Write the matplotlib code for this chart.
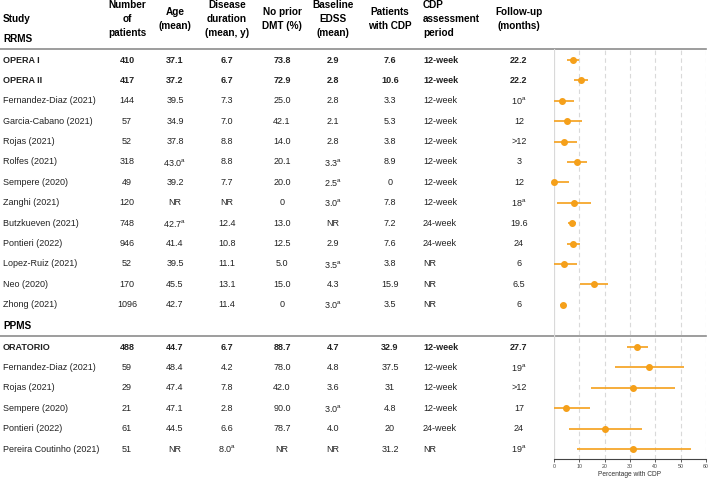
import numpy as np
import matplotlib
matplotlib.use("Agg")
import matplotlib.pyplot as plt

plt.rcParams['font.family'] = ['Liberation Sans', 'DejaVu Sans']

# RRMS studies
studies_rr = ["OPERA I", "OPERA II", "Fernandez-Diaz (2021)", "Garcia-Cabano (2021)", "Rojas (2021)",
              "Rolfes (2021)", "Sempere (2020)", "Zanghi (2021)", "Butzkueven (2021)", "Pontieri (2022)",
              "Lopez-Ruiz (2021)", "Neo (2020)", "Zhong (2021)"]
n_rr = ["410", "417", "144", "57", "52", "318", "49", "120", "748", "946", "52", "170", "1096"]
age_rr = ["37.1", "37.2", "39.5", "34.9", "37.8", "43.0a", "39.2", "NR", "42.7a", "41.4", "39.5", "45.5", "42.7"]
dur_rr = ["6.7", "6.7", "7.3", "7.0", "8.8", "8.8", "7.7", "NR", "12.4", "10.8", "11.1", "13.1", "11.4"]
dmt_rr = ["73.8", "72.9", "25.0", "42.1", "14.0", "20.1", "20.0", "0", "13.0", "12.5", "5.0", "15.0", "0"]
edss_rr = ["2.9", "2.8", "2.8", "2.1", "2.8", "3.3a", "2.5a", "3.0a", "NR", "2.9", "3.5a", "4.3", "3.0a"]
cdp_rr = [7.6, 10.6, 3.3, 5.3, 3.8, 8.9, 0, 7.8, 7.2, 7.6, 3.8, 15.9, 3.5]
period_rr = ["12-week"] * 8 + ["24-week"] * 2 + ["NR"] * 3
fu_rr = ["22.2", "22.2", "10a", "12", ">12", "3", "12", "18a", "19.6", "24", "6", "6.5", "6"]
lo_rr = [5.0, 7.7, 0.0, 0.0, 0.0, 5.0, 0.0, 1.3, 5.4, 5.0, 0.0, 10.4, 2.2]
hi_rr = [9.9, 13.5, 7.9, 11.0, 8.9, 12.9, 5.9, 14.5, 8.8, 10.1, 8.9, 21.3, 4.9]
bold_rr = [True, True] + [False] * 11

# PPMS studies
studies_pp = ["ORATORIO", "Fernandez-Diaz (2021)", "Rojas (2021)", "Sempere (2020)", "Pontieri (2022)",
              "Pereira Coutinho (2021)"]
n_pp = ["488", "59", "29", "21", "61", "51"]
age_pp = ["44.7", "48.4", "47.4", "47.1", "44.5", "NR"]
dur_pp = ["6.7", "4.2", "7.8", "2.8", "6.6", "8.0a"]
dmt_pp = ["88.7", "78.0", "42.0", "90.0", "78.7", "NR"]
edss_pp = ["4.7", "4.8", "3.6", "3.0a", "4.0", "NR"]
cdp_pp = [32.9, 37.5, 31, 4.8, 20, 31.2]
period_pp = ["12-week", "12-week", "12-week", "12-week", "24-week", "NR"]
fu_pp = ["27.7", "19a", ">12", "17", "24", "19a"]
lo_pp = [28.9, 24.1, 14.5, 0.0, 6.1, 9.0]
hi_pp = [37.2, 51.2, 47.8, 14.1, 34.6, 54.0]
bold_pp = [True] + [False] * 5

headers = ["Number\nof\npatients", "Age\n(mean)", "Disease\nduration\n(mean, y)", "No prior\nDMT (%)",
           "Baseline\nEDSS\n(mean)", "Patients\nwith CDP"]

orange = '#f5a01a'
txt = '#222222'


def fmt(s):
    if s.endswith("a"):
        return s[:-1] + r"$^{\mathregular{a}}$"
    return s


W, H = 709, 478
fig = plt.figure(figsize=(W / 100, H / 100), dpi=100)
ax = fig.add_axes([0, 0, 1, 1])
ax.set_xlim(0, W)
ax.set_ylim(H, 0)
ax.axis('off')

# column positions (pixels)
col_x = [127, 175, 227, 282, 333, 390]
period_x = 423
fu_x = 519
hfs = 7.2
bfs = 6.5

ax.text(3, 19, "Study", fontsize=hfs, fontweight='bold', va='center', color='black')
ax.text(3, 39, "RRMS", fontsize=hfs, fontweight='bold', va='center', color='black')
for x, h in zip(col_x, headers):
    ax.text(x, 19, h, fontsize=hfs, fontweight='bold', ha='center', va='center',
            multialignment='center', linespacing=1.45, color='black')
ax.text(period_x, 19, "CDP\nassessment\nperiod", fontsize=hfs, fontweight='bold', ha='left',
        va='center', linespacing=1.45, color='black')
ax.text(fu_x, 19, "Follow-up\n(months)", fontsize=hfs, fontweight='bold', ha='center',
        va='center', multialignment='center', linespacing=1.45, color='black')

ax.plot([0, 706], [49, 49], color='#8c8c8c', lw=1.2)
ax.plot([0, 706], [336, 336], color='#8c8c8c', lw=1.2)
ax.text(3, 326, "PPMS", fontsize=hfs, fontweight='bold', va='center', color='black')

y_rr = 60 + 20.4 * np.arange(len(studies_rr))
y_pp = 347 + 20.4 * np.arange(len(studies_pp))


def draw_rows(ys, studies, n, age, dur, dmt, edss, cdp, period, fu, bold):
    for i, y in enumerate(ys):
        w = 'bold' if bold[i] else 'normal'
        ax.text(3, y, studies[i], fontsize=bfs, fontweight=w, va='center', color=txt)
        vals = [n[i], age[i], dur[i], dmt[i], edss[i], f"{cdp[i]:g}"]
        for x, v in zip(col_x, vals):
            ax.text(x, y, fmt(v), fontsize=bfs, fontweight=w, ha='center', va='center', color=txt)
        ax.text(period_x, y, period[i], fontsize=bfs, fontweight=w, va='center', color=txt)
        ax.text(fu_x, y, fmt(fu[i]), fontsize=bfs, fontweight=w, ha='center', va='center', color=txt)


draw_rows(y_rr, studies_rr, n_rr, age_rr, dur_rr, dmt_rr, edss_rr, cdp_rr, period_rr, fu_rr, bold_rr)
draw_rows(y_pp, studies_pp, n_pp, age_pp, dur_pp, dmt_pp, edss_pp, cdp_pp, period_pp, fu_pp, bold_pp)

# forest panel
x0, x1, ytop, ybot = 554, 706, 49, 459
fa = fig.add_axes([x0 / W, 1 - ybot / H, (x1 - x0) / W, (ybot - ytop) / H])
fa.patch.set_alpha(0)
fa.set_xlim(0, 60)
fa.set_ylim(ybot, ytop)
fa.axvline(0, color='#d9d9d9', lw=0.9, zorder=0)
for g in range(10, 61, 10):
    fa.axvline(g, color='#d9d9d9', lw=0.8, ls=(0, (4, 3)), zorder=0)

for ys, v, lo, hi in [(y_rr, cdp_rr, lo_rr, hi_rr), (y_pp, cdp_pp, lo_pp, hi_pp)]:
    fa.hlines(ys, lo, hi, color=orange, lw=1.2, clip_on=False)
    fa.plot(v, ys, 'o', color=orange, ms=4, clip_on=False)

for s in ['top', 'right', 'left']:
    fa.spines[s].set_visible(False)
fa.spines['bottom'].set_color('#444444')
fa.spines['bottom'].set_linewidth(0.8)
fa.set_yticks([])
fa.set_xticks(range(0, 61, 10))
fa.tick_params(axis='x', labelsize=3.8, length=2, width=0.6, pad=1.5, colors='#444444')
fa.set_xlabel("Percentage with CDP", fontsize=4.8, labelpad=1.5, color='#333333')

fig.savefig("out.png", dpi=100)
